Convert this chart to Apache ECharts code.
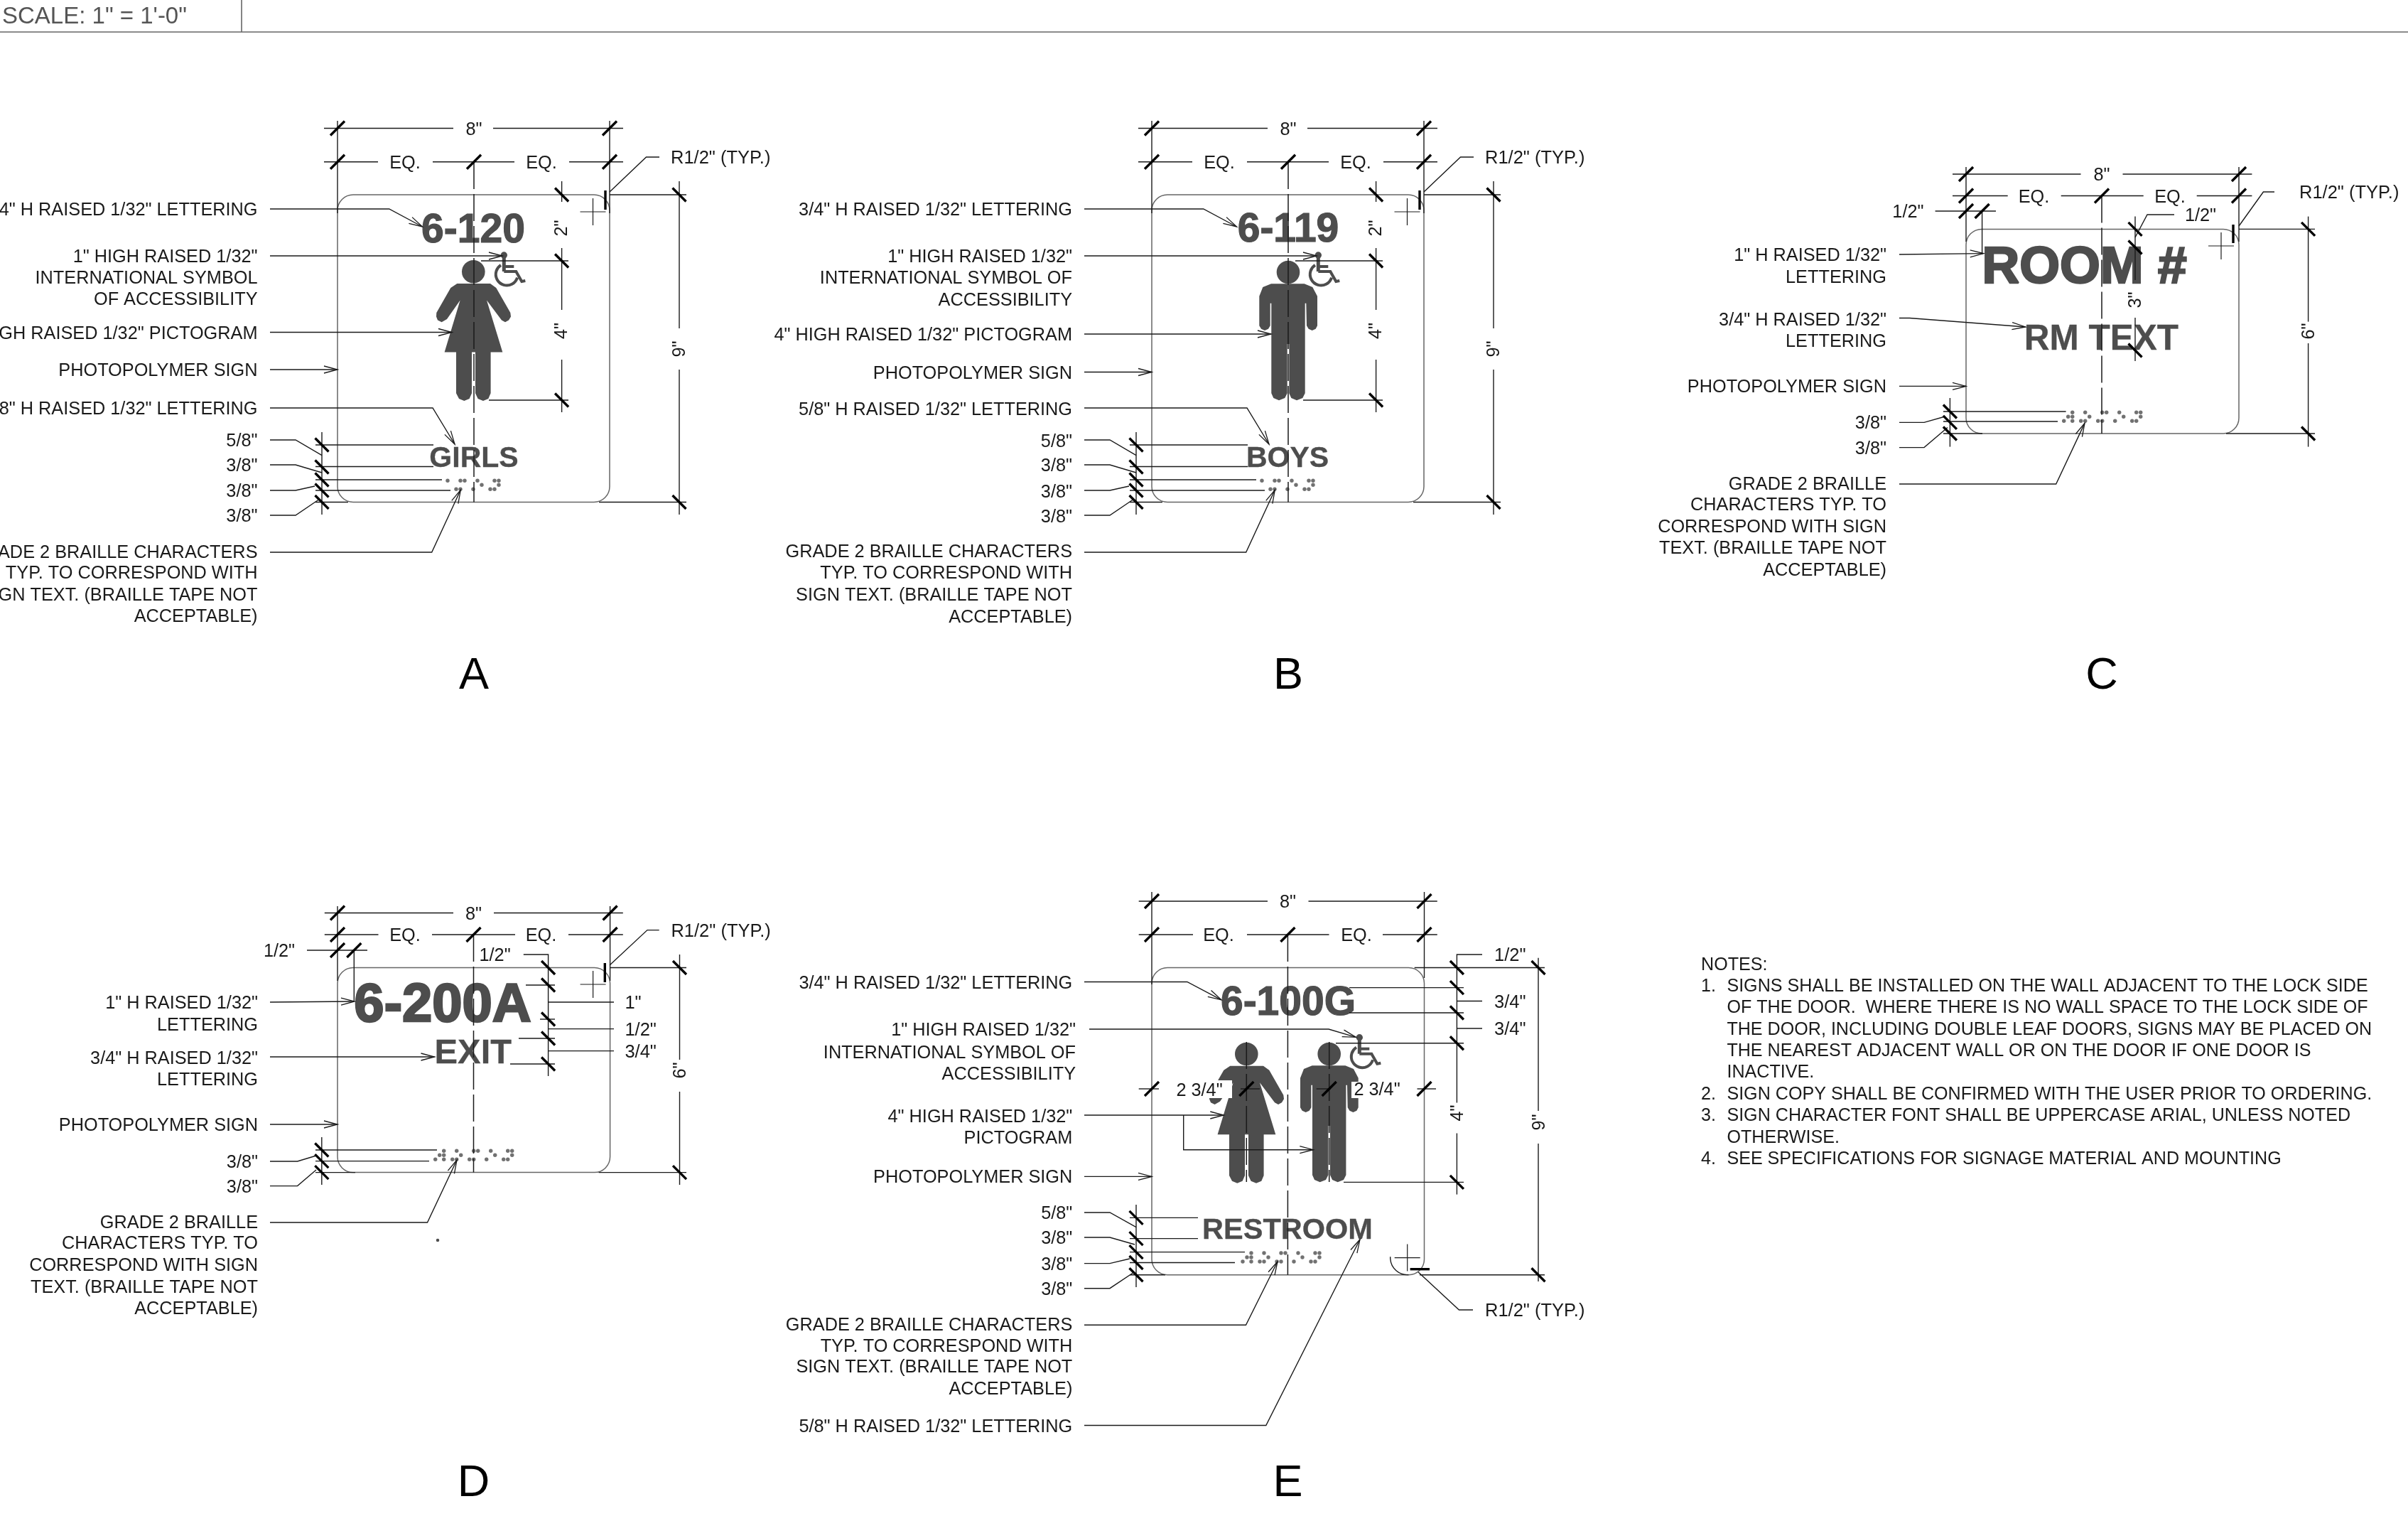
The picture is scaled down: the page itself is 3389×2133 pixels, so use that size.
<!DOCTYPE html>
<html><head><meta charset="utf-8">
<style>html,body{margin:0;padding:0;background:#fff}#c{width:3389px;height:2133px}</style>
<script src="https://cdn.jsdelivr.net/npm/echarts@6/dist/echarts.min.js"></script>
</head><body><div id="c"></div>
<script>
const shift = (rows, dx) => rows.map(r => r.map(p => [p[0] + dx, p[1]]));
const DX_B = 1146;

/* sign outlines: left, top, right, bottom */
const signOutlines = [[475,274,858,706.5],[1621,274,2004,706.5],[2767,322.4,3151,610],[475,1361.5,858.6,1649.6],[1621,1361.5,2004.5,1793.7]];
/* sheet header */
const headerLines = [[[0,45],[3389,45]],[[340,0],[340,45]]];
const headerText = [[3,21,'SCALE: 1" = 1\'-0"']];

/* centre lines */
const centreLines = [[[667,228],[667,706.5]],[[1813,228],[1813,706.5]],[[2958,275.5],[2958,610]],[[666.5,1315],[666.5,1649.6]],[[1812.4,1315],[1812.4,1793.7]],[[1754.3,1466],[1754.3,1663]],[[1870.7,1466],[1870.7,1663]]];

/* dimension and extension lines */
const dimAB = [
 [[456,180.5],[638,180.5]],[[694,180.5],[877,180.5]],
 [[456,227.7],[532,227.7]],[[609,227.7],[724,227.7]],[[801,227.7],[877,227.7]],
 [[475,170],[475,300]],[[858,170],[858,300]],
 [[858,274],[966,274]],[[843,706.5],[966,706.5]],
 [[956,255],[956,462]],[[956,520],[956,724]],
 [[790.6,255],[790.6,284]],[[790.6,349],[790.6,436]],[[790.6,506],[790.6,580]],
 [[677,367],[800,367]],[[688,563],[800,563]],
 [[453,608],[453,724]],
 [[444,626],[610,626]],[[444,656.5],[610,656.5]],[[444,675],[622,675]],[[444,690],[634,690]],[[444,706.5],[490,706.5]],
 [[928,221],[909.5,221],[858,270]],
 [[380,619],[416,619],[453,640.7]],[[380,654],[416,654],[453,665]],[[380,690],[416,690],[443,684]],[[380,725],[416,725],[450,702]]
];
const dimC = [
 [[2748,245],[2928.5,245]],[[2987.5,245],[3169.4,245]],
 [[2748,275.5],[2825.7,275.5]],[[2900.7,275.5],[3016.7,275.5]],[[3091.7,275.5],[3169.4,275.5]],
 [[2723.6,297],[2809,297]],[[2789.6,297],[2789.6,358]],
 [[2767,235],[2767,340]],[[3151,235],[3151,340]],
 [[3060,302],[3022,302],[3005,334]],
 [[3005,304.6],[3005,394]],[[3005,447],[3005,508]],
 [[3151,322.4],[3258,322.4]],[[3133,610],[3258,610]],
 [[3248.6,304.6],[3248.6,452.6]],[[3248.6,483],[3248.6,628.6]],
 [[2744.4,560],[2744.4,628.6]],
 [[2735,579],[2907.6,579]],[[2735,593],[2896,593]],[[2735,610],[2790,610]],
 [[2673,594.4],[2708,594.4],[2737.5,586]],[[2673,629.6],[2708,629.6],[2741,601.5]],
 [[3201,270],[3185.4,270],[3151,318]]
];
const dimD = [
 [[456.8,1284.5],[638,1284.5]],[[695,1284.5],[876.8,1284.5]],
 [[456.8,1315],[532.5,1315]],[[608,1315],[725,1315]],[[800,1315],[876.8,1315]],
 [[432,1337],[517,1337]],[[498.3,1337],[498.3,1408]],
 [[475,1275],[475,1380]],[[858.6,1275],[858.6,1380]],
 [[736.8,1343],[771.6,1343],[771.6,1514]],
 [[740,1386],[781,1386]],[[760,1434],[781,1434]],[[730,1461],[781,1461]],[[718,1497],[781,1497]],
 [[771.6,1410],[864,1410]],[[771.6,1447.6],[864,1447.6]],[[771.6,1478.6],[864,1478.6]],
 [[927.7,1308.6],[911,1308.6],[858,1358]],
 [[858.6,1361.5],[966,1361.5]],[[842.6,1649.6],[966,1649.6]],
 [[956.5,1343],[956.5,1491]],[[956.5,1536],[956.5,1667]],
 [[452.8,1600],[452.8,1667]],
 [[444,1618],[615,1618]],[[444,1633.6],[604,1633.6]],[[444,1649.6],[500,1649.6]],
 [[380,1634],[418.6,1634],[445,1626]],[[380,1668.6],[418.6,1668.6],[445,1646]]
];
const dimE = [
 [[1602.7,1268],[1784,1268]],[[1841.5,1268],[2022.8,1268]],
 [[1602.7,1315],[1679,1315]],[[1755,1315],[1870.5,1315]],[[1946,1315],[2022.8,1315]],
 [[1621,1255],[1621,1385]],[[2004.5,1255],[2004.5,1376]],
 [[2086,1343],[2050.4,1343],[2050.4,1551.5]],[[2050.4,1594.5],[2050.4,1680.6]],
 [[2050.4,1408.5],[2086,1408.5]],[[2050.4,1447],[2086,1447]],
 [[1899,1389.6],[2060,1389.6]],[[1899,1425],[2060,1425]],[[1880,1467.7],[2060,1467.7]],[[1891,1663.4],[2060,1663.4]],
 [[1990.7,1361.5],[2174,1361.5]],[[1998,1793.7],[2174,1793.7]],
 [[2165,1347.7],[2165,1563]],[[2165,1609],[2165,1803]],
 [[2073,1843],[2053.4,1843],[1996,1789.7]],
 [[1602.7,1532],[1631,1532]],[[1746,1532],[1773,1532]],[[1852.7,1532],[1873,1532]],[[1994.5,1532],[2021,1532]],
 [[1599,1695],[1599,1811]],
 [[1590,1713.4],[1686,1713.4]],[[1590,1742.6],[1686,1742.6]],[[1590,1761.6],[1752,1761.6]],[[1590,1776.5],[1738,1776.5]],[[1590,1793.7],[1640,1793.7]],
 [[1526,1706],[1562,1706],[1599,1726.6]],[[1526,1741],[1562,1741],[1597,1751]],[[1526,1777.6],[1562,1777.6],[1590,1771]],[[1526,1812.7],[1562,1812.7],[1596,1790]]
];
const dimensionLines = dimAB.concat(shift(dimAB, DX_B), dimC, dimD, dimE);

/* leaders that end in an open arrow */
const leadAB = [
 [[380,294],[547.7,294],[594.5,319]],
 [[380,360],[707,360]],
 [[380,467.5],[636,467.5]],
 [[380,520],[475,520]],
 [[380,574],[609,574],[640,625]],
 [[380,777],[607.7,777],[648.3,689.3]]
];
const leadB = shift(leadAB, DX_B);
leadB[2] = [[1526,470],[1789,470]];
leadB[3] = [[1526,523.5],[1621,523.5]];
const leadOther = [
 [[2673,358],[2791.7,356.6]],[[2673,447.5],[2687.5,447.5],[2850.7,460]],[[2673,543.4],[2767,543.4]],[[2673,681],[2893.7,681],[2934,595.4]],
 [[380,1410],[499,1409]],[[380,1487],[611.5,1487]],[[380,1582],[475,1582]],[[380,1720],[601.5,1720],[643,1632]],
 [[1526,1381.5],[1670.8,1381.5],[1719,1406.8]],[[1533,1448],[1870,1448],[1908.3,1459.3]],[[1526,1569],[1722.3,1569]],[[1665.7,1569],[1665.7,1617.7],[1848.3,1617.7]],
 [[1526,1655.4],[1621,1655.4]],[[1526,1864.3],[1753.5,1864.3],[1798,1775]],[[1526,2005.5],[1781.8,2005.5],[1914,1743.8]]
];
const arrowLeaders = leadAB.concat(leadB, leadOther);

/* heavy dimension ticks */
const slashAB = [[475,180.5],[858,180.5],[475,227.7],[667,227.7],[858,227.7]];
const slashTicks = slashAB.concat(slashAB.map(p => [p[0]+DX_B,p[1]]),
 [[2767,245],[3151,245],[2767,275.5],[2958,275.5],[3151,275.5],[2767,297],[2789.6,297]],
 [[475,1284.5],[858.6,1284.5],[475,1315],[666.5,1315],[858.6,1315],[475,1337],[498.3,1337]],
 [[1621,1268],[2004.5,1268],[1621,1315],[1812.4,1315],[2004.5,1315],[1621,1532],[1754.3,1532],[1870.7,1532],[2004.5,1532]]);
const backAB = [[956,274],[956,706.5],[790.6,274],[790.6,367],[790.6,563],[453,626],[453,657],[453,675],[453,690],[453,706.5]];
const backTicks = backAB.concat(backAB.map(p => [p[0]+DX_B,p[1]]),
 [[3005,322.4],[3005,348],[3005,493],[3248.6,322.4],[3248.6,610],[2744.4,579],[2744.4,594.4],[2744.4,610]],
 [[771.6,1361.5],[771.6,1386],[771.6,1434],[771.6,1461],[771.6,1497],[956.5,1361.5],[956.5,1649.6],[452.8,1618],[452.8,1633.6],[452.8,1649.6]],
 [[2050.4,1361.5],[2050.4,1389.6],[2050.4,1425],[2050.4,1467.7],[2050.4,1663.4],[2165,1361.5],[2165,1793.7],[1599,1713.4],[1599,1742.6],[1599,1761.6],[1599,1776.5],[1599,1793.7]]);
/* radius markers: heavy bar and centre cross */
const radiusBars = [[[852,268],[852,295]],[[1998,268],[1998,295]],[[3143,316],[3143,342]],[[851.3,1355],[851.3,1382]],[[1984.6,1785.7],[2012,1785.7]]];
const radiusCrosses = [[834.5,298],[1980.5,298],[3126,346],[834.6,1385],[1980.7,1769.6]];
const radiusArcs = [[1980.7,1769.6,24]];

/* pictograms: [x, y] of the head centre */
const women = [[666.3,382.3],[1754.3,1483]];
const men = [[1813,383],[1870.7,1483]];
const wheelchairs = [[709.3,359],[1855.3,359],[1913.3,1459.7]];
const womanShape = [[-23,16.7],[23.7,16.7],[32,22.7],[52,57.7],[52.7,63.3],[49.7,68.3],[44.7,71],[39.7,68.3],[18.7,40.3],[41,113.3],[24.3,113.3],[24.3,171],[21,178.7],[13.7,181.7],[6.3,178.7],[2.7,171],[2.7,113.3],[-2.3,113.3],[-2.3,171],[-5.7,178.7],[-13,181.7],[-20.3,178.7],[-24.3,171],[-24.3,113.3],[-40.7,113.3],[-18.7,40.3],[-37.3,66.7],[-44.7,71],[-50.3,68.3],[-52.3,63.3],[-52,57.7],[-32,22.7]];
const manShape = [[-24,16.3],[22.7,16.3],[34.3,21],[41,33.7],[41,75.3],[38.7,79.7],[33.7,82],[28.7,79.7],[26,75.3],[25.3,43.7],[23.7,43.7],[23.7,170.3],[20.3,177],[12,180.3],[4.3,177],[1.3,170.3],[1.3,101],[-1.3,101],[-1.3,170.3],[-4.7,177],[-13,180.3],[-20.7,177],[-23.7,170.3],[-23.7,43.7],[-25.3,43.7],[-25.3,75.3],[-28,79.7],[-33,82],[-38,79.7],[-40.7,75.3],[-40.7,33.7],[-35.7,21]];
/* white boxes behind the "2 3/4" dimension in sign E */
const textMasks = [[1655,1520,1734,1545],[1902,1522,1972,1545]];

/* braille: origin, then [column, row] cells */
const brailleGirls = [[0,0],[3,0],[4,0],[7,0],[11,0],[12,0],[8,1],[12,1],[2,2],[3,2],[6,2],[10,2],[11,2]];
const brailleRoom = [[2,0],[5,0],[9,0],[10,0],[13,0],[17,0],[18,0],[1,1],[2,1],[6,1],[14,1],[18,1],[0,2],[2,2],[4,2],[5,2],[8,2],[9,2],[12,2],[16,2],[17,2]];
const brailleBlocks = [[630,676.3,brailleGirls],[1776,676.3,brailleGirls],[2904.7,580.3,brailleRoom],[612.7,1619.3,brailleRoom],[1749,1763,brailleRoom]];
const strayDots = [[616,1745]];

/* raised sign copy: x, y, text, size */
const signCopy = [
 [666,321,'6-120',57],[667,642,'GIRLS',41],[1813,320,'6-119',57],[1812,642,'BOYS',41],
 [2933.5,372,'ROOM #',73],[2957.4,474,'RM TEXT',49.5],
 [623,1410,'6-200A',76],[665.8,1479,'EXIT',48.8],
 [1813,1408,'6-100G',57],[1812,1728,'RESTROOM',41.5]
];
/* callouts: x, y, text */
const rightLabelsA = [
 [362.5,294,'3/4" H RAISED 1/32" LETTERING'],[362.5,360,'1" HIGH RAISED 1/32"'],[362.5,390,'INTERNATIONAL SYMBOL'],[362.5,420,'OF ACCESSIBILITY'],
 [362.5,467.5,'4" HIGH RAISED 1/32" PICTOGRAM'],[362.5,520,'PHOTOPOLYMER SIGN'],[362.5,574,'5/8" H RAISED 1/32" LETTERING'],
 [362.5,619,'5/8"'],[362.5,654,'3/8"'],[362.5,690,'3/8"'],[362.5,725,'3/8"'],
 [362.5,775.5,'GRADE 2 BRAILLE CHARACTERS'],[362.5,805,'TYP. TO CORRESPOND WITH'],[362.5,836,'SIGN TEXT. (BRAILLE TAPE NOT'],[362.5,866,'ACCEPTABLE)']
];
const rightLabelsB = [
 [1509,294,'3/4" H RAISED 1/32" LETTERING'],[1509,360,'1" HIGH RAISED 1/32"'],[1509,390,'INTERNATIONAL SYMBOL OF'],[1509,421,'ACCESSIBILITY'],
 [1509,470,'4" HIGH RAISED 1/32" PICTOGRAM'],[1509,523.5,'PHOTOPOLYMER SIGN'],[1509,575,'5/8" H RAISED 1/32" LETTERING'],
 [1509,619.5,'5/8"'],[1509,654.4,'3/8"'],[1509,690.5,'3/8"'],[1509,725.5,'3/8"'],
 [1509,775.4,'GRADE 2 BRAILLE CHARACTERS'],[1509,805,'TYP. TO CORRESPOND WITH'],[1509,836,'SIGN TEXT. (BRAILLE TAPE NOT'],[1509,867,'ACCEPTABLE)']
];
const rightLabelsC = [
 [2655,358,'1" H RAISED 1/32"'],[2655,389,'LETTERING'],[2655,448.5,'3/4" H RAISED 1/32"'],[2655,478.6,'LETTERING'],[2655,543.4,'PHOTOPOLYMER SIGN'],
 [2655,594.4,'3/8"'],[2655,629.6,'3/8"'],
 [2655,679.6,'GRADE 2 BRAILLE'],[2655,709,'CHARACTERS TYP. TO'],[2655,740,'CORRESPOND WITH SIGN'],[2655,770,'TEXT. (BRAILLE TAPE NOT'],[2655,800.5,'ACCEPTABLE)']
];
const rightLabelsD = [
 [363,1410,'1" H RAISED 1/32"'],[363,1440.7,'LETTERING'],[363,1487.8,'3/4" H RAISED 1/32"'],[363,1518,'LETTERING'],[363,1582,'PHOTOPOLYMER SIGN'],
 [363,1634,'3/8"'],[363,1668.6,'3/8"'],
 [363,1718.5,'GRADE 2 BRAILLE'],[363,1748.4,'CHARACTERS TYP. TO'],[363,1779,'CORRESPOND WITH SIGN'],[363,1810,'TEXT. (BRAILLE TAPE NOT'],[363,1839.6,'ACCEPTABLE)']
];
const rightLabelsE = [
 [1509.3,1381.5,'3/4" H RAISED 1/32" LETTERING'],[1514,1448,'1" HIGH RAISED 1/32"'],[1514,1479.7,'INTERNATIONAL SYMBOL OF'],[1514,1509.6,'ACCESSIBILITY'],
 [1509.3,1570.4,'4" HIGH RAISED 1/32"'],[1509.3,1600,'PICTOGRAM'],[1509.3,1655.4,'PHOTOPOLYMER SIGN'],
 [1509.3,1706,'5/8"'],[1509.3,1741,'3/8"'],[1509.3,1777.6,'3/8"'],[1509.3,1812.7,'3/8"'],
 [1509.3,1862.6,'GRADE 2 BRAILLE CHARACTERS'],[1509.3,1892.5,'TYP. TO CORRESPOND WITH'],[1509.3,1922.3,'SIGN TEXT. (BRAILLE TAPE NOT'],[1509.3,1953.3,'ACCEPTABLE)'],[1509.3,2005.5,'5/8" H RAISED 1/32" LETTERING']
];
const centreLabels = [
 [667,180.5,'8"'],[570,227.7,'EQ.'],[762,227.7,'EQ.'],[1813,180.5,'8"'],[1716,227.7,'EQ.'],[1908,227.7,'EQ.'],
 [2958,245,'8"'],[2862.5,275.5,'EQ.'],[3054,275.5,'EQ.'],[2685.4,297,'1/2"'],[3097,302,'1/2"'],
 [666.5,1284.5,'8"'],[570,1315,'EQ.'],[761.5,1315,'EQ.'],[393,1337,'1/2"'],[696.6,1343,'1/2"'],
 [1812.4,1268,'8"'],[1715,1315,'EQ.'],[1909,1315,'EQ.'],[1688,1532.5,'2 3/4"'],[1938,1531.7,'2 3/4"']
];
const leftLabels = [
 [944,221,'R1/2" (TYP.)'],[2090,221,'R1/2" (TYP.)'],[3236,270,'R1/2" (TYP.)'],[944.4,1308.6,'R1/2" (TYP.)'],[2090,1843,'R1/2" (TYP.)'],
 [879.4,1410,'1"'],[879.4,1447.6,'1/2"'],[879.4,1478.6,'3/4"'],[2103,1343,'1/2"'],[2103,1408.5,'3/4"'],[2103,1447,'3/4"']
];
const uprightDims = [
 [789,321,'2"'],[789,465.5,'4"'],[955,491,'9"'],[1935,321,'2"'],[1935,465.5,'4"'],[2101,491,'9"'],
 [3004,422,'3"'],[3248,466,'6"'],[956,1506,'6"'],[2050,1566,'4"'],[2164.5,1579,'9"']
];
const sheetLetters = [[667,947,'A'],[1813,947,'B'],[2958,947,'C'],[666.5,2083,'D'],[1812.4,2083,'E']];
const noteLines = [
 [2394,1356,'NOTES:'],
 [2394,1385.7,'1.'],[2430.4,1385.7,'SIGNS SHALL BE INSTALLED ON THE WALL ADJACENT TO THE LOCK SIDE'],
 [2430.4,1416,'OF THE DOOR.  WHERE THERE IS NO WALL SPACE TO THE LOCK SIDE OF'],
 [2430.4,1446.7,'THE DOOR, INCLUDING DOUBLE LEAF DOORS, SIGNS MAY BE PLACED ON'],
 [2430.4,1477,'THE NEAREST ADJACENT WALL OR ON THE DOOR IF ONE DOOR IS'],
 [2430.4,1507,'INACTIVE.'],
 [2394,1538,'2.'],[2430.4,1538,'SIGN COPY SHALL BE CONFIRMED WITH THE USER PRIOR TO ORDERING.'],
 [2394,1568,'3.'],[2430.4,1568,'SIGN CHARACTER FONT SHALL BE UPPERCASE ARIAL, UNLESS NOTED'],
 [2430.4,1598.7,'OTHERWISE.'],
 [2394,1629,'4.'],[2430.4,1629,'SEE SPECIFICATIONS FOR SIGNAGE MATERIAL AND MOUNTING']
];

/* ---------- drawing ---------- */
const FONT = '"Liberation Sans", Arial, sans-serif';
const INK = '#1a1a1a', GRAY = '#4d4d4d';
const P = (api, p) => api.coord([p[0], p[1]]);
const layer = (name, items, draw, z) => ({
  type: 'custom', name, coordinateSystem: 'cartesian2d', silent: true, animation: false, clip: false, z,
  data: items.map((_, i) => [i, 0]),
  renderItem: (params, api) => draw(items[params.dataIndex], api)
});
const stroke = (api, pts, color, width, dash) => ({
  type: 'polyline', shape: { points: pts.map(p => P(api, p)) },
  style: { fill: null, stroke: color, lineWidth: width, lineDash: dash || null, lineCap: 'butt' }
});
const text = (api, row, size, align, opts) => {
  const c = P(api, row); const o = opts || {};
  const drop = size * 0.08;
  return { type: 'text', x: c[0] + (o.rotation ? drop : 0), y: c[1] + (o.rotation ? 0 : drop), rotation: o.rotation || 0,
    style: { x: 0, y: 0, text: row[2], fill: o.fill || INK, font: (o.weight || 'normal') + ' ' + size + 'px ' + FONT,
      align, verticalAlign: 'middle', stroke: o.stroke || null, lineWidth: o.lineWidth || 0 } };
};
const arrowHead = (api, pts) => {
  const a = pts[pts.length - 2], b = pts[pts.length - 1];
  const ang = Math.atan2(b[1] - a[1], b[0] - a[0]), L = 19, W = 5;
  const ux = Math.cos(ang), uy = Math.sin(ang);
  return stroke(api, [[b[0]-L*ux-W*uy, b[1]-L*uy+W*ux], b, [b[0]-L*ux+W*uy, b[1]-L*uy-W*ux]], INK, 1.3);
};
const brailleDots = [];
brailleBlocks.forEach(b => b[2].forEach(c => brailleDots.push([b[0] + c[0] * 6, b[1] + c[1] * 6])));

const figure = (shape) => (h, api) => ({ type: 'group', children: [
  { type: 'circle', shape: { cx: P(api,h)[0], cy: P(api,h)[1], r: 16.3 }, style: { fill: GRAY } },
  { type: 'polygon', shape: { points: shape.map(p => P(api, [h[0]+p[0], h[1]+p[1]])) }, style: { fill: GRAY } }
]});
const wheel = (h, api) => {
  const at = (x, y) => [h[0]+x, h[1]+y];
  const c = P(api, at(4, 27));
  return { type: 'group', children: [
    { type: 'circle', shape: { cx: P(api,h)[0], cy: P(api,h)[1], r: 4.7 }, style: { fill: GRAY } },
    stroke(api, [at(0,0), at(0,23)], GRAY, 5),
    stroke(api, [at(0,16), at(14,16)], GRAY, 4),
    stroke(api, [at(0,23), at(17,23), at(25,37), at(30,36)], GRAY, 4),
    { type: 'arc', shape: { cx: c[0], cy: c[1], r: 15.5, startAngle: 0.3, endAngle: 4.14, clockwise: true }, style: { fill: null, stroke: GRAY, lineWidth: 4 } }
  ]};
};
const copyWeight = size => size >= 70 ? 2.6 : size >= 55 ? 1.2 : 0.3;

const allRight = rightLabelsA.concat(rightLabelsB, rightLabelsC, rightLabelsD, rightLabelsE);

const series = [
  layer('signOutlines', signOutlines, (s, api) => {
    const a = P(api,[s[0],s[1]]), b = P(api,[s[2],s[3]]);
    return { type: 'rect', shape: { x: a[0], y: a[1], width: b[0]-a[0], height: b[1]-a[1], r: 22 }, style: { fill: null, stroke: '#666', lineWidth: 1.5 } };
  }, 1),
  layer('women', women, figure(womanShape), 2),
  layer('men', men, figure(manShape), 2),
  layer('wheelchairs', wheelchairs, wheel, 2),
  layer('signCopy', signCopy, (r, api) => text(api, r, r[3], 'center', { fill: GRAY, weight: 'bold', stroke: GRAY, lineWidth: copyWeight(r[3]) }), 2),
  { type: 'scatter', name: 'braille', silent: true, animation: false, symbolSize: 5.4, itemStyle: { color: GRAY }, z: 2, data: brailleDots },
  { type: 'scatter', name: 'stray', silent: true, animation: false, symbolSize: 4.5, itemStyle: { color: '#222' }, z: 2, data: strayDots },
  layer('masks', textMasks, (m, api) => {
    const a = P(api,[m[0],m[1]]), b = P(api,[m[2],m[3]]);
    return { type: 'rect', shape: { x: a[0], y: a[1], width: b[0]-a[0], height: b[1]-a[1] }, style: { fill: '#fff' } };
  }, 3),
  layer('header', headerLines, (l, api) => stroke(api, l, '#666', 1.6), 4),
  layer('centre', centreLines, (l, api) => stroke(api, l, INK, 1.5, [38, 7]), 4),
  layer('dimensions', dimensionLines, (l, api) => stroke(api, l, INK, 1.4), 4),
  layer('leaders', arrowLeaders, (l, api) => ({ type: 'group', children: [stroke(api, l, INK, 1.4), arrowHead(api, l)] }), 4),
  layer('slash', slashTicks, (t, api) => stroke(api, [[t[0]-10,t[1]+10],[t[0]+10,t[1]-10]], '#000', 3.4), 5),
  layer('back', backTicks, (t, api) => stroke(api, [[t[0]-9.5,t[1]-9.5],[t[0]+9.5,t[1]+9.5]], '#000', 3.4), 5),
  layer('bars', radiusBars, (l, api) => stroke(api, l, '#000', 3.4), 5),
  layer('cross', radiusCrosses, (c, api) => ({ type: 'group', children: [
    stroke(api, [[c[0]-18,c[1]],[c[0]+18,c[1]]], INK, 1.2), stroke(api, [[c[0],c[1]-19],[c[0],c[1]+19]], INK, 1.2) ] }), 4),
  layer('arc', radiusArcs, (c, api) => { const p = P(api,c); return { type: 'arc', shape: { cx: p[0], cy: p[1], r: c[2], startAngle: 1.5, endAngle: 3.2, clockwise: true }, style: { fill: null, stroke: INK, lineWidth: 1.4 } }; }, 4),
  layer('headerText', headerText, (r, api) => text(api, r, 33, 'left', { fill: '#555' }), 6),
  layer('rightLabels', allRight, (r, api) => text(api, r, 25.3, 'right'), 6),
  layer('centreLabels', centreLabels, (r, api) => text(api, r, 25.3, 'center'), 6),
  layer('leftLabels', leftLabels, (r, api) => text(api, r, 25.5, 'left'), 6),
  layer('uprightDims', uprightDims, (r, api) => text(api, r, 25.3, 'center', { rotation: Math.PI / 2 }), 6),
  layer('letters', sheetLetters, (r, api) => text(api, r, 63, 'center', { fill: '#000' }), 6),
  layer('notes', noteLines, (r, api) => text(api, r, 25.12, 'left'), 6)
];

const chart = echarts.init(document.getElementById('c'), null, { renderer: 'canvas', width: 3389, height: 2133 });
chart.setOption({
  backgroundColor: '#fff', animation: false,
  grid: { left: 0, right: 0, top: 0, bottom: 0 },
  xAxis: { type: 'value', min: 0, max: 3389, show: false },
  yAxis: { type: 'value', min: 0, max: 2133, inverse: true, show: false },
  tooltip: { show: false },
  series
});
</script></body></html>
